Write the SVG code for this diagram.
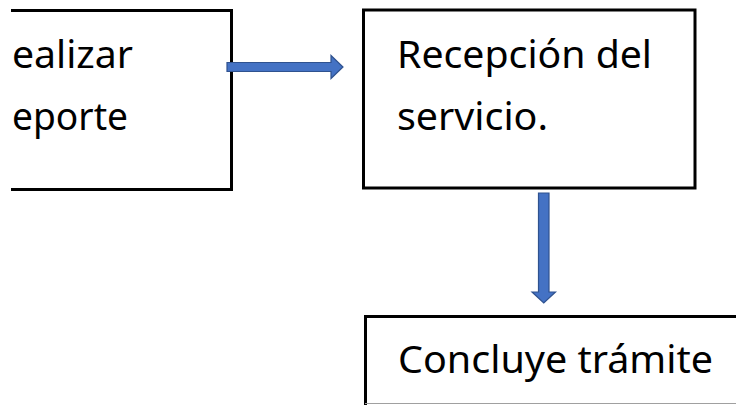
<svg xmlns="http://www.w3.org/2000/svg" width="736" height="405" viewBox="0 0 736 405">
  <style>
    .box { fill: #ffffff; stroke: #000000; stroke-width: 3; }
    .edge { fill: none; stroke: #000000; stroke-width: 3; }
    .lbl { font-family: "Noto Sans", "Open Sans", sans-serif; font-size: 38px; fill: #000000; }
    .arrow { fill: #4472C4; stroke: #2F528F; stroke-width: 1.2; }
  </style>
  <rect width="736" height="405" fill="#ffffff"/>
  <g id="node-realizar">
    <path class="edge" d="M11,10.5 H231.5 V189.5 H11"/>
    <text class="lbl" x="12" y="68" textLength="121" lengthAdjust="spacingAndGlyphs">ealizar</text>
    <text class="lbl" x="12" y="130" textLength="116" lengthAdjust="spacingAndGlyphs">eporte</text>
  </g>
  <g id="node-recepcion">
    <rect class="box" x="363.5" y="10" width="331.5" height="178"/>
    <text class="lbl" x="397" y="68" textLength="255" lengthAdjust="spacingAndGlyphs">Recepción del</text>
    <text class="lbl" x="397" y="130" textLength="151" lengthAdjust="spacingAndGlyphs">servicio.</text>
  </g>
  <g id="node-concluye">
    <path class="edge" d="M365.5,406 V316.5 H737"/>
    <line x1="365" y1="403.5" x2="736" y2="403.5" stroke="#a0a0a0" stroke-width="1"/>
    <text class="lbl" x="398" y="373" textLength="315" lengthAdjust="spacingAndGlyphs">Concluye trámite</text>
  </g>
  <g id="connectors">
    <path class="arrow" d="M227,62.5 H331 V55.5 L343,67 L331,78.5 V71.5 H227 Z"/>
    <path class="arrow" d="M538.5,193 H549 V292 H555.5 L543.75,303 L532,292 H538.5 Z"/>
  </g>
</svg>
